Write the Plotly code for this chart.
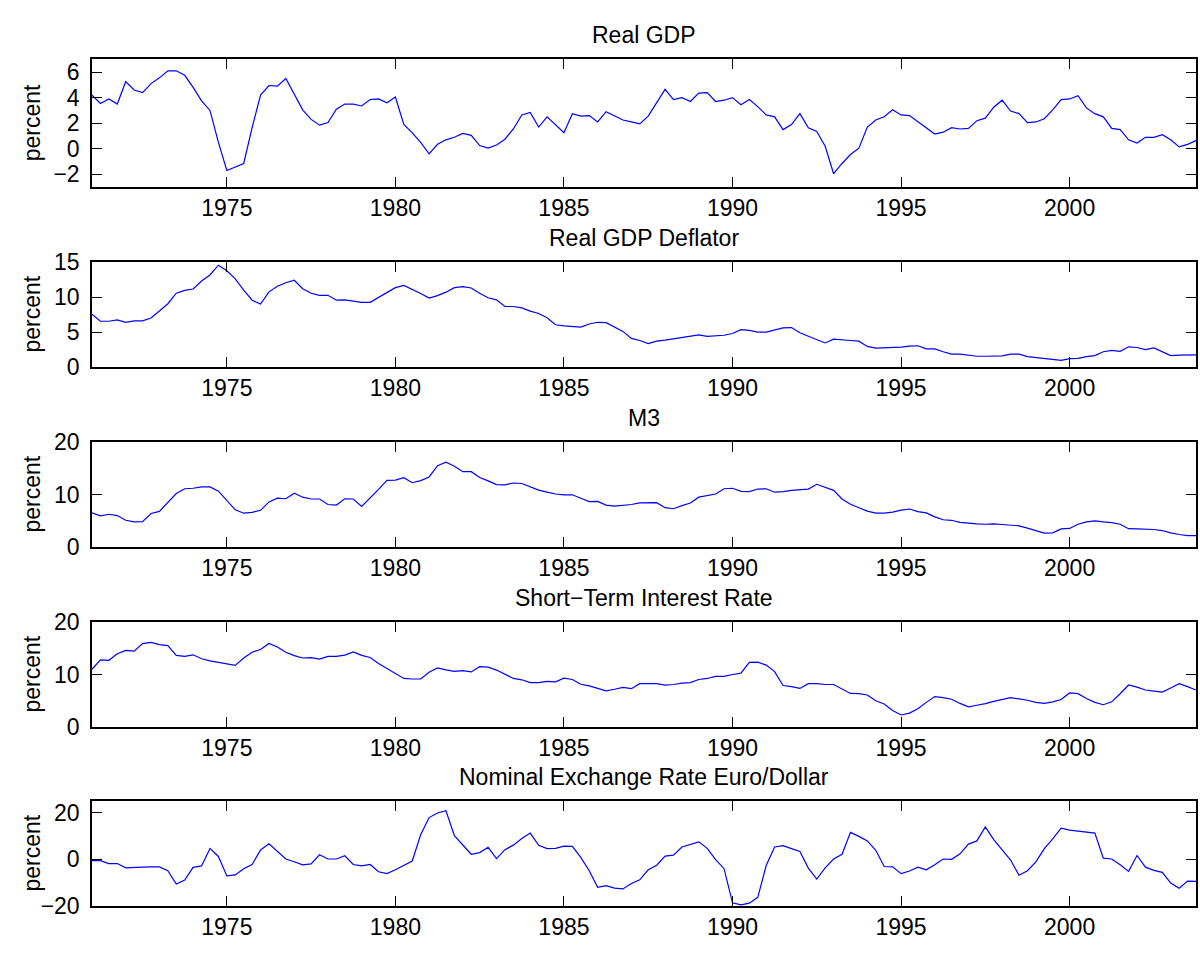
import plotly.graph_objects as go

START_YEAR = 1971
N_QUARTERS = 132

real_gdp = [
    4.2, 3.55, 3.9, 3.5,
    5.25, 4.6, 4.4, 5.1,
    5.55, 6.1, 6.1, 5.75,
    4.8, 3.75, 3.0, 0.5,
    -1.7, -1.4, -1.15, 1.65,
    4.2, 4.95, 4.9, 5.5,
    4.25, 3.05, 2.3, 1.85,
    2.05, 3.1, 3.5, 3.5,
    3.35, 3.85, 3.9, 3.6,
    4.05, 1.9, 1.25, 0.5,
    -0.4, 0.35, 0.7, 0.9,
    1.2, 1.05, 0.25, 0.05,
    0.3, 0.75, 1.55, 2.65,
    2.85, 1.7, 2.5, 1.9,
    1.25, 2.75, 2.55, 2.6,
    2.1, 2.9, 2.6, 2.25,
    2.1, 1.95, 2.55, 3.6,
    4.65, 3.85, 4.0, 3.7,
    4.35, 4.4, 3.7, 3.8,
    4.0, 3.45, 3.85, 3.3,
    2.65, 2.5, 1.5, 1.9,
    2.75, 1.65, 1.35, 0.2,
    -1.95, -1.15, -0.45, 0.05,
    1.7, 2.25, 2.5, 3.05,
    2.65, 2.6, 2.1, 1.6,
    1.15, 1.3, 1.65, 1.55,
    1.6, 2.2, 2.4, 3.25,
    3.8, 2.95, 2.75, 2.05,
    2.1, 2.35, 3.05, 3.85,
    3.9, 4.15, 3.2, 2.75,
    2.5, 1.6, 1.5, 0.7,
    0.45, 0.9, 0.9, 1.1,
    0.7, 0.15, 0.35, 0.65,
]

gdp_deflator = [
    7.55, 6.55, 6.55, 6.75,
    6.4, 6.6, 6.6, 7.0,
    8.0, 9.05, 10.55, 10.95,
    11.15, 12.3, 13.15, 14.55,
    13.75, 12.6, 11.0, 9.55,
    9.0, 10.75, 11.55, 12.05,
    12.4, 11.2, 10.55, 10.25,
    10.25, 9.55, 9.6, 9.4,
    9.25, 9.25, 9.95, 10.7,
    11.35, 11.65, 11.1, 10.5,
    9.85, 10.2, 10.7, 11.35,
    11.5, 11.3, 10.55, 9.9,
    9.6, 8.65, 8.65, 8.45,
    8.0, 7.65, 7.05, 6.05,
    5.9, 5.75, 5.7, 6.15,
    6.4, 6.35, 5.75, 5.1,
    4.1, 3.8, 3.35, 3.7,
    3.85, 4.05, 4.25, 4.35,
    4.6, 4.4, 4.45, 4.55,
    4.8, 5.35, 5.25, 5.0,
    5.0, 5.3, 5.6, 5.65,
    4.9, 4.4, 3.95, 3.45,
    4.0, 3.95, 3.8, 3.7,
    2.95, 2.7, 2.75, 2.75,
    2.85, 3.0, 3.05, 2.6,
    2.6, 2.2, 1.85, 1.85,
    1.65, 1.55, 1.55, 1.6,
    1.6, 1.85, 1.85, 1.5,
    1.35, 1.2, 1.0, 0.95,
    1.2, 1.25, 1.5, 1.65,
    2.2, 2.4, 2.25, 2.9,
    2.8, 2.5, 2.75, 2.2,
    1.65, 1.7, 1.75, 1.75,
]

m3 = [
    6.5, 5.95, 6.25, 6.0,
    5.1, 4.8, 4.85, 6.4,
    6.8, 8.5, 10.2, 11.1,
    11.2, 11.45, 11.45, 10.65,
    8.9, 7.1, 6.45, 6.6,
    7.0, 8.6, 9.3, 9.2,
    10.25, 9.5, 9.15, 9.15,
    8.1, 8.0, 9.2, 9.15,
    7.75, 9.3, 11.0, 12.7,
    12.75, 13.2, 12.25, 12.65,
    13.35, 15.5, 16.15, 15.4,
    14.35, 14.35, 13.25, 12.6,
    11.9, 11.85, 12.2, 12.1,
    11.4, 10.85, 10.45, 10.1,
    9.95, 9.95, 9.3, 8.65,
    8.7, 8.0, 7.8, 7.9,
    8.1, 8.4, 8.45, 8.45,
    7.5, 7.3, 7.9, 8.4,
    9.5, 9.75, 10.1, 11.1,
    11.2, 10.6, 10.55, 11.05,
    11.1, 10.45, 10.55, 10.8,
    10.9, 11.05, 11.95, 11.45,
    10.8, 9.15, 8.15, 7.5,
    6.85, 6.45, 6.45, 6.65,
    7.05, 7.25, 6.75, 6.5,
    5.75, 5.2, 5.1, 4.7,
    4.5, 4.4, 4.35, 4.4,
    4.3, 4.15, 4.05, 3.6,
    3.15, 2.65, 2.7, 3.45,
    3.55, 4.35, 4.8, 5.0,
    4.8, 4.65, 4.35, 3.5,
    3.45, 3.45, 3.35, 3.15,
    2.7, 2.4, 2.2, 2.2,
]

short_rate = [
    11.0, 12.8, 12.7, 13.95,
    14.6, 14.45, 15.9, 16.1,
    15.7, 15.5, 13.65, 13.45,
    13.75, 13.0, 12.6, 12.3,
    12.1, 11.75, 13.15, 14.25,
    14.75, 15.9, 15.25, 14.25,
    13.6, 13.15, 13.2, 12.95,
    13.45, 13.45, 13.7, 14.3,
    13.65, 13.25, 12.1, 11.15,
    10.1, 9.25, 9.15, 9.15,
    10.45, 11.25, 10.9, 10.6,
    10.75, 10.5, 11.5, 11.4,
    10.85, 10.05, 9.25, 9.0,
    8.45, 8.45, 8.7, 8.6,
    9.3, 9.05, 8.15, 7.85,
    7.4, 6.9, 7.2, 7.55,
    7.3, 8.25, 8.25, 8.25,
    8.0, 8.1, 8.35, 8.45,
    9.05, 9.25, 9.65, 9.65,
    10.0, 10.25, 12.3, 12.35,
    11.8, 10.55, 7.9, 7.7,
    7.35, 8.25, 8.25, 8.1,
    8.1, 7.3, 6.4, 6.35,
    6.1, 5.0, 4.4, 3.15,
    2.3, 2.65, 3.5, 4.7,
    5.8, 5.6, 5.3, 4.5,
    3.85, 4.15, 4.45, 4.9,
    5.25, 5.6, 5.35, 5.1,
    4.7, 4.5, 4.8, 5.25,
    6.5, 6.35, 5.45, 4.7,
    4.25, 4.8, 6.35, 8.0,
    7.6, 7.05, 6.85, 6.65,
    7.45, 8.25, 7.7, 7.05,
]

exchange_rate = [
    -0.55, -0.55, -1.8, -1.8,
    -3.6, -3.6, -3.35, -3.2,
    -3.2, -4.85, -10.55, -8.9,
    -3.45, -2.8, 4.7, 1.25,
    -7.1, -6.65, -4.05, -2.2,
    4.0, 6.65, 3.6, 0.15,
    -1.0, -2.35, -1.95, 1.95,
    0.15, 0.15, 1.55, -2.2,
    -2.8, -2.2, -5.3, -6.1,
    -4.45, -2.5, -0.7, 10.55,
    17.9, 19.85, 20.85, 10.15,
    6.1, 2.2, 2.9, 5.15,
    0.3, 4.15, 6.1, 8.9,
    11.25, 6.0, 4.6, 4.7,
    5.7, 5.55, 0.85, -4.85,
    -11.95, -11.25, -12.35, -12.65,
    -10.3, -8.75, -4.45, -2.5,
    1.4, 1.8, 5.3, 6.25,
    7.5, 4.7, -0.15, -4.0,
    -18.6, -19.45, -18.75, -16.25,
    -2.65, 5.3, 5.85, 4.6,
    3.35, -3.75, -8.45, -3.6,
    0.15, 2.2, 11.55, 9.85,
    7.9, 3.9, -3.05, -3.2,
    -6.1, -5.0, -3.35, -4.45,
    -2.35, 0.15, 0.0, 2.35,
    6.55, 7.9, 13.9, 8.45,
    4.3, -0.3, -6.8, -4.85,
    -1.1, 4.6, 8.75, 13.35,
    12.5, 12.1, 11.95, 11.25,
    0.55, 0.15, -2.35, -5.15,
    1.65, -3.35, -4.7, -5.55,
    -10.15, -12.35, -9.3, -9.45,
]

titles = [
    "Real GDP",
    "Real GDP Deflator",
    "M3",
    "Short\u2212Term Interest Rate",
    "Nominal Exchange Rate Euro/Dollar",
]
series = [real_gdp, gdp_deflator, m3, short_rate, exchange_rate]
y_ranges = [[-3, 7], [0, 15], [0, 20], [0, 20], [-20, 25]]
y_ticks = [[-2, 0, 2, 4, 6], [0, 5, 10, 15], [0, 10, 20], [0, 10, 20], [-20, 0, 20]]
x_ticks = [1975, 1980, 1985, 1990, 1995, 2000]
y_label = "percent"

years = [START_YEAR + q / 4 for q in range(N_QUARTERS)]

W, H = 1200, 957
# axes boxes in pixels (top, bottom)
boxes = [(47.6, 179.0), (256.0, 364.0), (441.0, 549.0), (626.0, 734.0), (810.0, 918.0)]
title_gap = 25.0  # title centre above the box top
x_left, x_right = 92.0, 1196.0

FONT = "Liberation Sans, Arial, Helvetica, sans-serif"
FS = 23

fig = go.Figure()
annotations = []
for i, (vals, ttl) in enumerate(zip(series, titles)):
    assert len(vals) == N_QUARTERS, (ttl, len(vals))
    ax = "" if i == 0 else str(i + 1)
    fig.add_trace(go.Scatter(
        x=years, y=vals, mode="lines",
        line=dict(color="#0000ff", width=1.2),
        xaxis="x" + ax, yaxis="y" + ax, showlegend=False,
        hoverinfo="x+y",
    ))
    top, bot = boxes[i]
    dom = [1 - bot / H, 1 - top / H]
    common = dict(
        showline=True, linecolor="black", linewidth=1.5, mirror="allticks",
        ticks="inside", ticklen=10, tickwidth=1, tickcolor="black",
        showgrid=False, zeroline=False,
        tickfont=dict(family=FONT, size=FS, color="black"),
    )
    fig.layout["xaxis" + ax] = dict(
        domain=[x_left / W, x_right / W], range=[START_YEAR, START_YEAR + (N_QUARTERS - 1) / 4],
        tickmode="array", tickvals=x_ticks, ticktext=[str(t) for t in x_ticks],
        ticklabelstandoff=0,
        anchor="y" + ax, **common,
    )
    fig.layout["yaxis" + ax] = dict(
        domain=dom, range=y_ranges[i],
        tickmode="array", tickvals=y_ticks[i],
        ticklabelstandoff=6,
        anchor="x" + ax, **common,
    )
    annotations.append(dict(
        text=ttl, xref="paper", yref="paper",
        x=(x_left + x_right) / 2 / W, y=1 - (top - title_gap) / H,
        xanchor="center", yanchor="middle", showarrow=False,
        font=dict(family=FONT, size=FS, color="black"),
    ))
    annotations.append(dict(
        text=y_label, xref="paper", yref="paper",
        x=32 / W, y=1 - (top + bot) / 2 / H, textangle=-90,
        xanchor="center", yanchor="middle", showarrow=False,
        font=dict(family=FONT, size=FS, color="black"),
    ))

fig.update_layout(
    width=W, height=H, autosize=False,
    margin=dict(l=0, r=0, t=0, b=0),
    paper_bgcolor="white", plot_bgcolor="white",
    annotations=annotations,
)

fig.write_html(
    "out.html",
    config={"displayModeBar": False},
    post_script="document.body.style.margin='0';",
)
